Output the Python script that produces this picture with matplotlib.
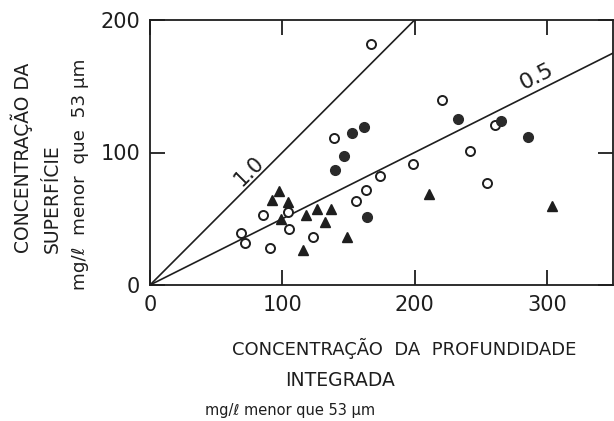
import matplotlib
matplotlib.use('Agg')
from matplotlib import pyplot as plt

# open circles
open_x = [69, 72, 85.5, 91, 104, 105, 123.5, 139, 155.5, 163, 167, 174, 199, 221, 242, 254.5, 261]
open_y = [39, 31.5, 53, 28, 55, 42, 36, 111, 63.5, 72, 182, 82, 91, 140, 101, 77, 120.5]

# filled circles
fill_x = [139.5, 147, 152.5, 161.5, 164, 232.5, 265, 285.5]
fill_y = [87, 97.5, 115, 119, 51.5, 125, 124, 112]

# triangles
tri_x = [92, 97.5, 104, 99, 118, 126, 136.5, 132.5, 115.5, 149, 211, 304]
tri_y = [64, 71, 63, 50, 53, 57, 57, 47.5, 26.5, 36.5, 69, 60]

# reference ratio lines
ratios = [1.0, 0.5]

ink = '#1e1e1e'
plt.rcParams['font.family'] = ['DejaVu Sans']

W, H = 614, 421
fig = plt.figure(figsize=(6.14, 4.21), dpi=100)
ax = fig.add_axes([150/W, 136/H, 463/W, 265/H])
ax.set_xlim(0, 350)
ax.set_ylim(0, 200)

ax.plot([0, 200], [0, 200 * ratios[0]], color=ink, lw=1.2)
ax.plot([0, 350], [0, 350 * ratios[1]], color=ink, lw=1.2)

ax.plot(open_x, open_y, 'o', ms=6.5, mfc='white', mec=ink, mew=1.4)
ax.plot(tri_x, tri_y, '^', ms=7, color=ink)
ax.plot(fill_x, fill_y, 'o', ms=7, color='#2a2a2a')

ax.text(75, 86, '1.0', rotation=45, fontsize=15, color=ink, ha='center', va='center')
ax.text(292, 157, '0.5', rotation=27, fontsize=16, color=ink, ha='center', va='center')

for s in ax.spines.values():
    s.set_color(ink)
    s.set_linewidth(1.3)

ax.set_xticks([0, 100, 200, 300])
ax.set_xticklabels(['0', '100', '200', '300'])
ax.set_yticks([0, 100, 200])
ax.set_yticklabels(['0', '100', '200'])
ax.tick_params(direction='in', length=11, width=1.3, color=ink, labelsize=15,
               labelcolor=ink, top=True, right=True, pad=7)

fig.text(22/W, 1 - 253/H, 'CONCENTRAÇÃO DA', rotation=90, rotation_mode='anchor',
         ha='left', va='center', fontsize=13.5, color=ink)
fig.text(52/W, 1 - 253/H, 'SUPERFÍCIE', rotation=90, rotation_mode='anchor',
         ha='left', va='center', fontsize=13.5, color=ink)
fig.text(80/W, 1 - 290/H, 'mg/ℓ  menor  que  53 μm', rotation=90, rotation_mode='anchor',
         ha='left', va='center', fontsize=13.2, color=ink)

fig.text(232/W, 1 - 348/H, 'CONCENTRAÇÃO  DA  PROFUNDIDADE', ha='left', va='center',
         fontsize=13, color=ink)
fig.text(285/W, 1 - 381/H, 'INTEGRADA', ha='left', va='center', fontsize=13.5, color=ink)
fig.text(205/W, 1 - 410/H, 'mg/ℓ menor que 53 μm', ha='left', va='center',
         fontsize=10.5, color=ink)

plt.savefig('out.png', dpi=100)
